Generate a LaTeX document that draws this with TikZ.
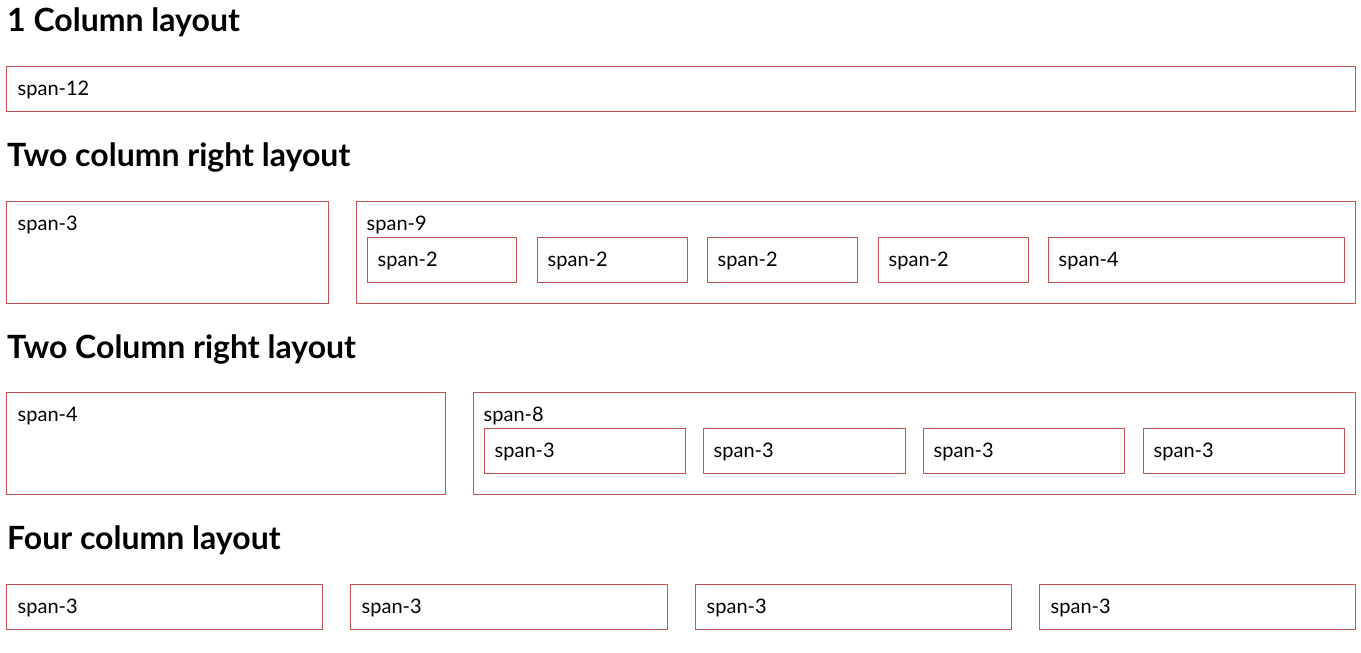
\documentclass[tikz,border=0pt]{standalone}
\usepackage{fontspec}
\setmainfont{Lato}
\definecolor{boxred}{RGB}{196,84,84}
\begin{document}
\begin{tikzpicture}[x=1pt,y=-1pt,
  box/.style={draw=boxred, line width=1pt, anchor=north west, inner sep=0pt, outer sep=0pt},
  lab/.style={anchor=base west, inner sep=0pt, font=\fontsize{20}{24}\selectfont},
  head/.style={anchor=base west, inner sep=0pt, font=\fontsize{32}{38}\selectfont\bfseries}]
\useasboundingbox[fill=white] (0,0) rectangle (1361,653);
% headings
\node[head] (h1) at (7,31) {1 Column layout};
\node[head] (h2) at (7,166) {Two column right layout};
\node[head] (h3) at (7,358) {Two Column right layout};
\node[head] (h4) at (7,549) {Four column layout};
% row 1
\node[box, minimum width=1349, minimum height=45] (a1) at (6.5,66) {};
\node[lab] (a1l) at ([xshift=11,yshift=-29.5]a1.north west) {span-12};
% row 2
\node[box, minimum width=322, minimum height=102] (b1) at (6.5,201) {};
\node[lab] (b1l) at ([xshift=11,yshift=-29]b1.north west) {span-3};
\node[box, minimum width=999, minimum height=102] (b2) at (356.5,201) {};
\node[lab] (b2l) at ([xshift=10,yshift=-29]b2.north west) {span-9};
\node[box, minimum width=149, minimum height=45] (b3) at (367.5,237) {};
\node[lab] (b3l) at ([xshift=10,yshift=-29.5]b3.north west) {span-2};
\node[box, minimum width=150, minimum height=45] (b4) at (537.5,237) {};
\node[lab] (b4l) at ([xshift=10,yshift=-29.5]b4.north west) {span-2};
\node[box, minimum width=150, minimum height=45] (b5) at (707.5,237) {};
\node[lab] (b5l) at ([xshift=10,yshift=-29.5]b5.north west) {span-2};
\node[box, minimum width=150, minimum height=45] (b6) at (878.5,237) {};
\node[lab] (b6l) at ([xshift=10,yshift=-29.5]b6.north west) {span-2};
\node[box, minimum width=296, minimum height=45] (b7) at (1048.5,237) {};
\node[lab] (b7l) at ([xshift=10,yshift=-29.5]b7.north west) {span-4};
% row 3
\node[box, minimum width=439, minimum height=102] (c1) at (6.5,392) {};
\node[lab] (c1l) at ([xshift=11,yshift=-29]c1.north west) {span-4};
\node[box, minimum width=882, minimum height=102] (c2) at (473.5,392) {};
\node[lab] (c2l) at ([xshift=10,yshift=-29]c2.north west) {span-8};
\node[box, minimum width=201, minimum height=45] (c3) at (484.5,428) {};
\node[lab] (c3l) at ([xshift=10,yshift=-29.5]c3.north west) {span-3};
\node[box, minimum width=202, minimum height=45] (c4) at (703.5,428) {};
\node[lab] (c4l) at ([xshift=10,yshift=-29.5]c4.north west) {span-3};
\node[box, minimum width=201, minimum height=45] (c5) at (923.5,428) {};
\node[lab] (c5l) at ([xshift=10,yshift=-29.5]c5.north west) {span-3};
\node[box, minimum width=201, minimum height=45] (c6) at (1143.5,428) {};
\node[lab] (c6l) at ([xshift=10,yshift=-29.5]c6.north west) {span-3};
% row 4
\node[box, minimum width=316, minimum height=45] (d1) at (6.5,584) {};
\node[lab] (d1l) at ([xshift=11,yshift=-29.5]d1.north west) {span-3};
\node[box, minimum width=317, minimum height=45] (d2) at (350.5,584) {};
\node[lab] (d2l) at ([xshift=11,yshift=-29.5]d2.north west) {span-3};
\node[box, minimum width=316, minimum height=45] (d3) at (695.5,584) {};
\node[lab] (d3l) at ([xshift=11,yshift=-29.5]d3.north west) {span-3};
\node[box, minimum width=316, minimum height=45] (d4) at (1039.5,584) {};
\node[lab] (d4l) at ([xshift=11,yshift=-29.5]d4.north west) {span-3};
\end{tikzpicture}
\end{document}
